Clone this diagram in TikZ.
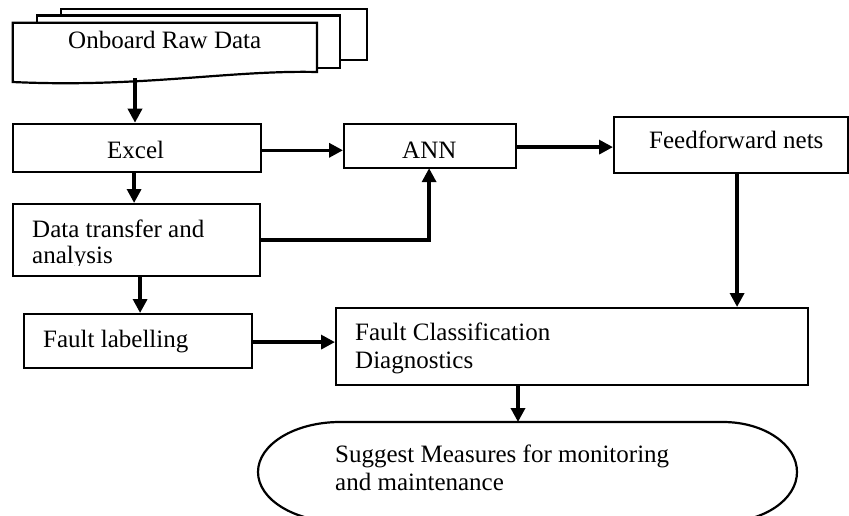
\documentclass[tikz,border=0pt]{standalone}
\usepackage{fontspec}
\setmainfont{Liberation Serif}
\usetikzlibrary{arrows.meta,calc}
\begin{document}
\begin{tikzpicture}[x=1pt,y=-1pt,
  box/.style={draw,line width=2.2pt,fill=white,inner sep=0pt,anchor=north west},
  txt/.style={anchor=base west,inner sep=0pt,font=\fontsize{25}{28}\selectfont},
  arr/.style={line width=3.4pt,-{Triangle[length=14pt,width=14pt]}},
  page/.style={draw,line width=2.2pt,fill=white,line join=miter}]
\useasboundingbox (0,0) rectangle (849,516);
\begin{scope}
\clip (0,0) rectangle (849,516);
% multi-document shape
\draw[page] (61,9) rectangle (367,60);
\draw[page] (37,15.5) rectangle (340,68);
\draw[page] (12.7,22.7) -- (317,22.7) -- (317,72)
   .. controls (230,70) and (140,88) .. (12.7,82) -- cycle;
\node[inner sep=0pt,anchor=north west,minimum width=304pt,minimum height=59pt] (doc) at (12.7,22.7) {};
\node[txt] (doctxt) at (68,49) {Onboard Raw Data};
\coordinate (docbot) at (135,78);

% boxes
\node[box,minimum width=248pt,minimum height=48pt] (excel) at (12,122.7) {};
\node[box,minimum width=172pt,minimum height=44pt] (ann) at (343,123) {};
\node[box,minimum width=234pt,minimum height=56pt] (ff) at (613,115.7) {};
\node[box,minimum width=247pt,minimum height=72pt] (data) at (12,203) {};
\node[box,minimum width=228pt,minimum height=54pt] (flab) at (23,313) {};
\node[box,minimum width=472pt,minimum height=77pt] (fc) at (335,307) {};

% terminal
\draw[line width=2.2pt,fill=white] (340,422) -- (723,422)
  .. controls (763.9,422) and (797,444.4) .. (797,472)
  .. controls (797,499.6) and (763.9,522) .. (723,522)
  -- (340,522)
  .. controls (294.7,522) and (258,499.6) .. (258,472)
  .. controls (258,444.4) and (294.7,422) .. (340,422) -- cycle;
\node[inner sep=0pt,anchor=north west,minimum width=539pt,minimum height=100pt] (term) at (258,422) {};
\coordinate (termtop) at (518,422);

% texts
\node[txt] (t1) at (107,159) {Excel};
\node[txt] (t2) at (402,159) {ANN};
\node[txt] (t3) at (649,149) {Feedforward nets};
\node[txt] (t4) at (32,237) {Data transfer and};
\begin{scope}
\clip (12,203) rectangle (259,265);
\node[txt] (t5) at (32,263) {analysis};
\end{scope}
\node[txt] (t6) at (43,347) {Fault labelling};
\node[txt] (t7) at (355,340) {Fault Classification};
\node[txt] (t8) at (355,368) {Diagnostics};
\node[txt] (t9) at (335,462) {Suggest Measures for monitoring};
\node[txt] (t10) at (335,490) {and maintenance};

% connectors
\draw[arr] (docbot) -- (docbot |- excel.north);
\draw[arr] ([xshift=-3pt,yshift=1pt]excel.south) -- ([xshift=-3pt]excel.south |- data.north);
\draw[arr] ([yshift=-2.5pt]excel.east) -- ([yshift=-2.5pt]excel.east -| ann.west);
\draw[arr] ([yshift=-1pt]ann.east) -- ([yshift=-1pt]ann.east -| ff.west);
\draw[arr] (data.east) -| ([xshift=-1pt,yshift=1pt]ann.south);
\draw[arr] ([xshift=3.5pt,yshift=1pt]data.south) -- ([xshift=3.5pt]data.south |- flab.north);
\draw[arr] ([yshift=-1pt]flab.east) -- ([yshift=-1pt]flab.east -| fc.west);
\draw[arr] ([xshift=6pt,yshift=1pt]ff.south) -- ([xshift=6pt]ff.south |- fc.north);
\draw[arr] ([yshift=1pt]termtop |- fc.south) -- (termtop);
\end{scope}
\end{tikzpicture}
\end{document}
